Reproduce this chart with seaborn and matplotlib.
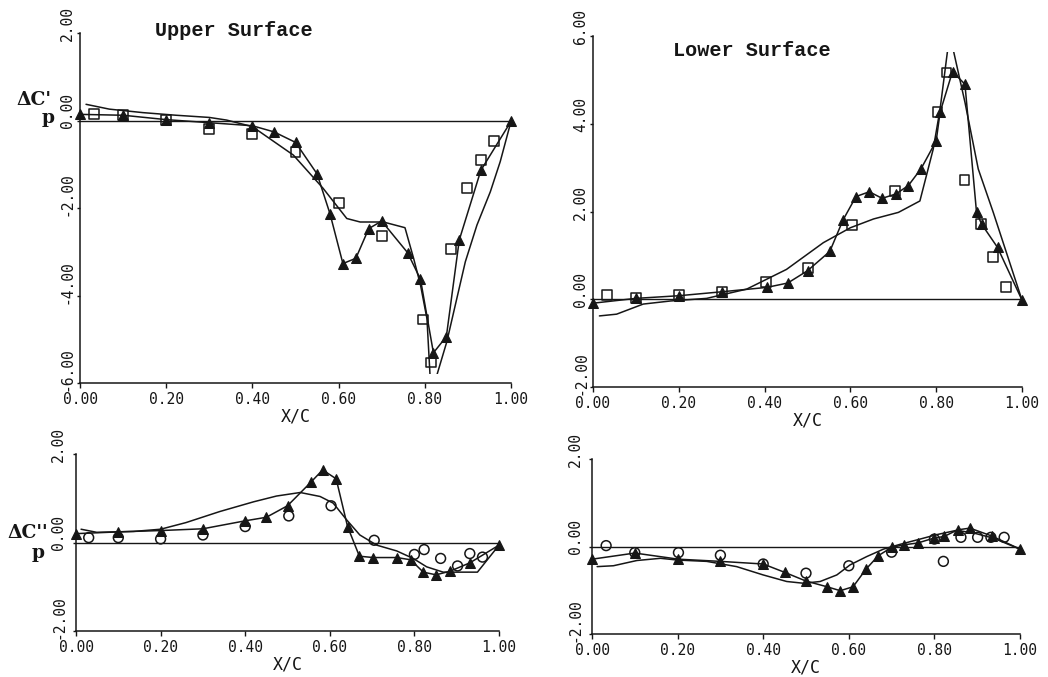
import numpy as np
import pandas as pd
import matplotlib
matplotlib.use("Agg")
import matplotlib.pyplot as plt
import matplotlib.transforms as mtrans
from matplotlib.patches import Rectangle
import seaborn as sns

# ---------------- Upper surface, delta C'p ----------------
up1_tri_x = [0.00, 0.10, 0.20, 0.30, 0.40, 0.45, 0.50, 0.55, 0.58, 0.61, 0.64, 0.67,
             0.70, 0.76, 0.79, 0.82, 0.85, 0.88, 0.93, 1.00]
up1_tri_y = [0.14, 0.12, 0.02, -0.05, -0.12, -0.26, -0.50, -1.22, -2.13, -3.27, -3.15, -2.47,
             -2.30, -3.02, -3.63, -5.31, -4.94, -2.73, -1.14, -0.02]
up1_sq_x = [0.032, 0.10, 0.20, 0.30, 0.40, 0.50, 0.60, 0.70, 0.795, 0.815, 0.86, 0.898, 0.93, 0.96]
up1_sq_y = [0.14, 0.12, 0.02, -0.20, -0.30, -0.72, -1.88, -2.64, -4.55, -5.53, -2.94, -1.55, -0.90, -0.46]
up1_th_x = [0.014, 0.068, 0.146, 0.223, 0.30, 0.34, 0.40, 0.495, 0.564, 0.619, 0.65, 0.704,
            0.754, 0.774, 0.79, 0.805, 0.812, 0.82, 0.828, 0.851, 0.894, 0.921, 0.952, 0.975, 1.00]
up1_th_y = [0.37, 0.26, 0.18, 0.12, 0.07, 0.01, -0.14, -0.79, -1.55, -2.24, -2.32, -2.32,
            -2.45, -3.15, -3.76, -4.53, -5.80, -6.60, -5.82, -5.06, -3.23, -2.39, -1.63, -0.94, -0.02]

# ---------------- Lower surface, delta C'p ----------------
lo1_tri_x = [0.00, 0.10, 0.20, 0.30, 0.405, 0.454, 0.50, 0.552, 0.583, 0.613, 0.644, 0.674,
             0.706, 0.735, 0.765, 0.80, 0.809, 0.838, 0.867, 0.894, 0.906, 0.943, 1.00]
lo1_tri_y = [-0.09, 0.02, 0.08, 0.17, 0.27, 0.37, 0.65, 1.09, 1.81, 2.34, 2.45, 2.30,
             2.40, 2.59, 2.98, 3.61, 4.26, 5.19, 4.90, 1.98, 1.71, 1.18, -0.02]
lo1_sq_x = [0.033, 0.10, 0.20, 0.30, 0.403, 0.502, 0.604, 0.704, 0.803, 0.824, 0.866, 0.904, 0.933, 0.963]
lo1_sq_y = [0.10, 0.02, 0.10, 0.17, 0.40, 0.72, 1.69, 2.47, 4.26, 5.17, 2.71, 1.71, 0.97, 0.27]
lo1_th_x = [0.015, 0.055, 0.117, 0.18, 0.265, 0.358, 0.451, 0.537, 0.60, 0.654, 0.712, 0.762,
            0.793, 0.809, 0.826, 0.834, 0.841, 0.867, 0.898, 0.933, 1.00]
lo1_th_y = [-0.38, -0.34, -0.11, -0.04, 0.02, 0.23, 0.68, 1.29, 1.63, 1.83, 1.98, 2.24,
            3.42, 4.33, 5.63, 6.20, 5.63, 4.49, 2.97, 1.98, -0.02]

# ---------------- Upper surface, delta C''p ----------------
up2_tri_x = [0.00, 0.10, 0.20, 0.30, 0.40, 0.45, 0.50, 0.555, 0.583, 0.615, 0.642, 0.67,
             0.703, 0.758, 0.791, 0.821, 0.851, 0.884, 0.931, 1.00]
up2_tri_y = [0.20, 0.24, 0.27, 0.31, 0.49, 0.57, 0.83, 1.36, 1.64, 1.44, 0.36, -0.31,
             -0.34, -0.34, -0.39, -0.67, -0.73, -0.65, -0.46, -0.06]
up2_ci_x = [0.03, 0.10, 0.20, 0.30, 0.40, 0.503, 0.603, 0.705, 0.80, 0.823, 0.862, 0.902, 0.931, 0.961]
up2_ci_y = [0.11, 0.11, 0.08, 0.17, 0.36, 0.60, 0.83, 0.05, -0.27, -0.16, -0.36, -0.53, -0.25, -0.33]
up2_th_x = [0.012, 0.049, 0.136, 0.20, 0.26, 0.34, 0.42, 0.474, 0.53, 0.577, 0.608, 0.64,
            0.671, 0.711, 0.758, 0.797, 0.829, 0.868, 0.916, 0.949, 1.00]
up2_th_y = [0.30, 0.23, 0.25, 0.30, 0.45, 0.70, 0.92, 1.05, 1.13, 1.04, 0.89, 0.51,
            0.17, -0.06, -0.19, -0.36, -0.55, -0.67, -0.67, -0.67, -0.06]

# ---------------- Lower surface, delta C''p ----------------
lo2_tri_x = [0.00, 0.10, 0.202, 0.30, 0.40, 0.45, 0.50, 0.549, 0.58, 0.61, 0.64, 0.669,
             0.70, 0.73, 0.761, 0.798, 0.823, 0.854, 0.883, 0.934, 1.00]
lo2_tri_y = [-0.29, -0.15, -0.29, -0.34, -0.40, -0.59, -0.79, -0.92, -1.01, -0.92, -0.52, -0.21,
             -0.02, 0.04, 0.08, 0.19, 0.23, 0.38, 0.42, 0.24, -0.06]
lo2_ci_x = [0.033, 0.10, 0.202, 0.30, 0.40, 0.50, 0.60, 0.70, 0.80, 0.821, 0.862, 0.901, 0.932, 0.963]
lo2_ci_y = [0.02, -0.14, -0.14, -0.20, -0.40, -0.61, -0.44, -0.13, 0.17, -0.34, 0.21, 0.21, 0.21, 0.21]
lo2_th_x = [0.012, 0.05, 0.105, 0.16, 0.20, 0.268, 0.338, 0.40, 0.455, 0.494, 0.533, 0.572,
            0.603, 0.642, 0.681, 0.72, 0.759, 0.805, 0.852, 0.891, 0.938, 1.00]
lo2_th_y = [-0.46, -0.44, -0.32, -0.27, -0.31, -0.34, -0.46, -0.65, -0.80, -0.84, -0.80, -0.65,
            -0.42, -0.23, -0.06, 0.05, 0.15, 0.27, 0.37, 0.31, 0.19, -0.06]

x_ticks = [0.0, 0.2, 0.4, 0.6, 0.8, 1.0]

INK = "#161616"

sns.set_style("ticks")
plt.rcParams["font.family"] = ["DejaVu Sans Mono", "DejaVu Sans"]
plt.rcParams["axes.unicode_minus"] = False

fig = plt.figure(figsize=(10.48, 6.77), dpi=100)
fig.patch.set_facecolor("white")

W, H = 1048.0, 677.0


def frame(left, top, right, bottom):
    return [left / W, 1 - bottom / H, (right - left) / W, (bottom - top) / H]


def draw_panel(ax, tri_x, tri_y, sym_x, sym_y, sym_marker, th_x, th_y,
               ylim, yticks, visible_band=None, ygap=5):
    ax.set_facecolor("white")
    ax.axhline(0, color=INK, lw=1.0, zorder=1)

    # smooth theory curve
    sns.lineplot(x=th_x, y=th_y, ax=ax, color=INK, lw=1.1, sort=False,
                 estimator=None, zorder=2)
    th_line = ax.lines[-1]
    if visible_band is not None:
        lo, hi = visible_band
        band = Rectangle((0, lo), 1, hi - lo, transform=ax.transData)
        th_line.set_clip_path(band)

    # measured series joined by line, triangle markers
    sns.lineplot(x=tri_x, y=tri_y, ax=ax, color=INK, lw=1.1, sort=False,
                 estimator=None, marker="^", markersize=6.5,
                 markeredgecolor=INK, markerfacecolor=INK, zorder=3)
    ax.lines[-1].set_clip_on(False)

    # second measured series, open symbols
    sns.scatterplot(x=sym_x, y=sym_y, ax=ax, marker=sym_marker, s=50,
                    color=INK, linewidth=1.1, zorder=4)
    coll = ax.collections[-1]
    coll.set_facecolor("none")
    coll.set_edgecolor(INK)
    coll.set_clip_on(False)

    ax.set_xlim(0, 1)
    ax.set_ylim(*ylim)
    sns.despine(ax=ax)
    for side in ("left", "bottom"):
        ax.spines[side].set_color(INK)
        ax.spines[side].set_linewidth(1.1)

    ax.set_xticks(x_ticks)
    ax.set_xticklabels([f"{v:.2f}" for v in x_ticks], fontsize=10.5, color=INK)
    ax.tick_params(axis="x", direction="out", length=3.5, width=1.0,
                   color=INK, pad=3)

    # y ticks: rotated labels that start just below each tick
    ax.set_yticks(yticks)
    ax.tick_params(axis="y", direction="out", length=2.5, width=1.0,
                   color=INK, labelleft=False)
    ytrans = mtrans.blended_transform_factory(ax.transAxes, ax.transData)
    shift = mtrans.ScaledTranslation(-ygap / 100, -8 / 100, fig.dpi_scale_trans)
    for v in yticks:
        ax.text(0, v, f"{v:.2f}", transform=ytrans + shift, rotation=90,
                ha="right", va="bottom", fontsize=10.5, color=INK, clip_on=False)

    ax.set_xlabel("X/C", fontsize=12, color=INK, labelpad=0)
    ax.set_ylabel("")


ax_a = fig.add_axes(frame(80, 33, 511, 383))
draw_panel(ax_a, up1_tri_x, up1_tri_y, up1_sq_x, up1_sq_y, "s",
           up1_th_x, up1_th_y, (-6, 2), [2, 0, -2, -4, -6], visible_band=(-5.8, 2),
           ygap=5)

ax_b = fig.add_axes(frame(593, 36, 1022, 387))
draw_panel(ax_b, lo1_tri_x, lo1_tri_y, lo1_sq_x, lo1_sq_y, "s",
           lo1_th_x, lo1_th_y, (-2, 6), [6, 4, 2, 0, -2], visible_band=(-2, 5.63),
           ygap=5)

ax_c = fig.add_axes(frame(76, 454, 499, 631))
draw_panel(ax_c, up2_tri_x, up2_tri_y, up2_ci_x, up2_ci_y, "o",
           up2_th_x, up2_th_y, (-2, 2), [2, 0, -2], ygap=10)

ax_d = fig.add_axes(frame(592, 459, 1020, 634))
draw_panel(ax_d, lo2_tri_x, lo2_tri_y, lo2_ci_x, lo2_ci_y, "o",
           lo2_th_x, lo2_th_y, (-2, 2), [2, 0, -2], ygap=9)

# panel headings
fig.text(155 / W, 1 - 30 / H, "Upper Surface", family="Liberation Mono",
         fontsize=14.5, fontweight="bold", color=INK, ha="left", va="center")
fig.text(673 / W, 1 - 50 / H, "Lower Surface", family="Liberation Mono",
         fontsize=14.5, fontweight="bold", color=INK, ha="left", va="center")

# axis quantity labels
lab_kw = dict(family="DejaVu Serif", fontsize=13.5, fontweight="bold",
              color=INK, ha="left", va="baseline")
fig.text(16 / W, 1 - 105 / H, "ΔC'", **lab_kw)
fig.text(42 / W, 1 - 123 / H, "p", **lab_kw)
fig.text(7 / W, 1 - 538 / H, "ΔC''", **lab_kw)
fig.text(32 / W, 1 - 558 / H, "p", **lab_kw)

fig.savefig("out.png", dpi=100, facecolor="white")
